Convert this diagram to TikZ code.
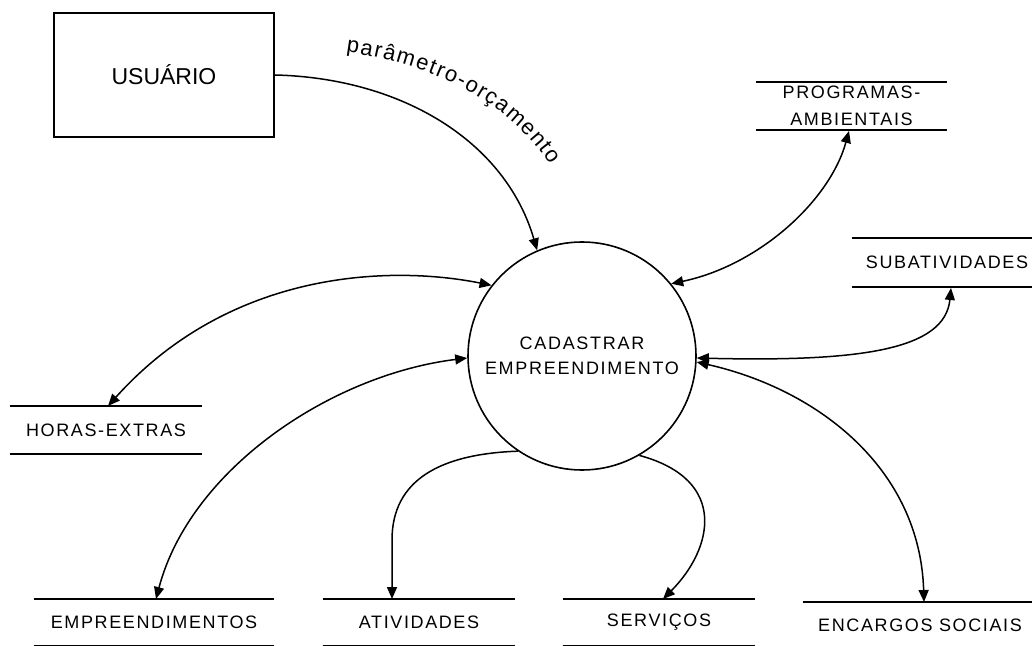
\documentclass[tikz,border=0pt]{standalone}
\usepackage{fontspec}
\setmainfont{Liberation Sans}
\newfontfamily\dsfont[LetterSpace=9]{Liberation Sans}
\newfontfamily\cfont[LetterSpace=9.5]{Liberation Sans}
\newcommand\lblfont{\fontsize{11}{13}\selectfont}
\usetikzlibrary{arrows.meta,decorations.text}
\begin{document}
\begin{tikzpicture}[x=0.5pt,y=-0.5pt,
  every node/.style={inner sep=0pt},
  boxnode/.style={draw, line width=1pt, minimum width=110pt, minimum height=62pt, font=\fontsize{11.5}{14}\selectfont},
  proc/.style={draw, circle, line width=0.8pt, minimum size=114pt, align=center, font=\cfont\fontsize{9}{12.5}\selectfont},
  store/.style={minimum height=24pt, align=center, font=\dsfont\fontsize{9}{13.5}\selectfont},
  storeline/.style={line width=1pt},
  flow/.style={line width=0.75pt, -{Triangle[length=6pt,width=5pt]}},
  biflow/.style={line width=0.75pt, {Triangle[length=6pt,width=5pt]}-{Triangle[length=6pt,width=5pt]}},
]
\fill[white] (0,0) rectangle (1032,646);
\useasboundingbox (0,0) rectangle (1032,646);

\node[boxnode] (usu) at (164,75) {USUÁRIO};
\node[proc] (c) at (582,356) {CADASTRAR\\EMPREENDIMENTO};
\node[store, minimum width=95.5pt] (prog) at (851.5,106) {PROGRAMAS-\\AMBIENTAIS};
\node[store, minimum width=95pt, minimum height=24.5pt] (sub) at (947,262.5) {SUBATIVIDADES};
\node[store, minimum width=96pt] (hor) at (106,430) {HORAS-EXTRAS};
\node[store, minimum width=120pt, minimum height=23.5pt] (emp) at (154,622.5) {EMPREENDIMENTOS};
\node[store, minimum width=96pt, minimum height=23.5pt] (ativ) at (419,622.5) {ATIVIDADES};
\node[store, minimum width=96pt, minimum height=23.5pt] (serv) at (659,622.5) {SERVIÇOS};
\node[store, minimum width=117pt, minimum height=23.5pt] (enc) at (920,625.5) {ENCARGOS SOCIAIS};

\foreach \n in {prog,sub,hor,emp,ativ,serv,enc}
  \draw[storeline] (\n.north west) -- (\n.north east) (\n.south west) -- (\n.south east);

\coordinate (progE) at (849,131);
\coordinate (subE) at (951,288);
\coordinate (horE) at (108,406);
\coordinate (empE) at (156,599);
\coordinate (ativE) at (392,599);
\coordinate (servE) at (663,599);
\coordinate (encE) at (924,602);

\draw[flow] (usu.east) .. controls (400,78) and (505,140) .. (c.113);
\draw[biflow] (c.142) .. controls (390,265) and (230,270) .. (horE);
\draw[biflow] (c.181) .. controls (330,375) and (190,470) .. (empE);
\draw[biflow] (c.39) .. controls (760,265) and (830,200) .. (progE);
\draw[biflow] (c.-1) .. controls (860,362) and (945,350) .. (subE);
\draw[biflow] (c.-3) .. controls (820,390) and (920,470) .. (encE);
\draw[flow] (c.236) .. controls (440,454) and (392,480) .. (392,540) -- (ativE);
\draw[flow] (c.-60) .. controls (730,480) and (712,550) .. (servE);

\path[decorate, decoration={text along path, text={|\lblfont|parâmetro-orçamento}, text align={fit to path}}]
  (346,52) .. controls (420,62) and (505,95) .. (550,165);
\end{tikzpicture}
\end{document}
